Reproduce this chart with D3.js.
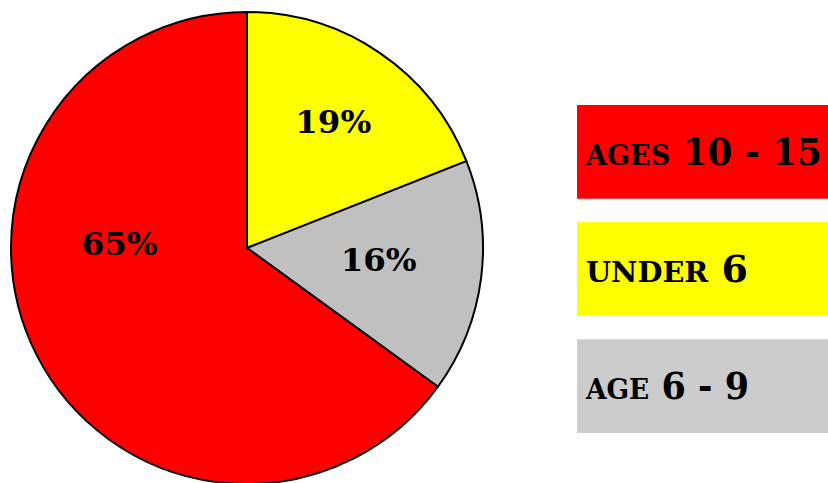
<!DOCTYPE html>
<html><head><meta charset="utf-8">
<script src="https://cdn.jsdelivr.net/npm/d3@7"></script>
<style>body{margin:0;background:#fff}svg{display:block}</style>
</head><body>
<script>
const categories = ["under 6", "age 6 - 9", "ages 10 - 15"];
const values = [19, 16, 65];
const pieColors = ["#FFFF00", "#C0C0C0", "#FF0000"];
const legendOrder = ["ages 10 - 15", "under 6", "age 6 - 9"];
const legendColors = ["#FF0000", "#FFFF00", "#CCCCCC"];

const W = 828, H = 483;
const svg = d3.select("body").append("svg").attr("width", W).attr("height", H);
const cx = 247, cy = 248, R = 236;
const font = "'DejaVu Serif', serif";

const pie = d3.pie().sort(null).value(d => d)(values);
const arc = d3.arc().innerRadius(0).outerRadius(R);
const g = svg.append("g").attr("transform", `translate(${cx},${cy})`);
g.selectAll("path").data(pie).join("path")
  .attr("d", arc).attr("fill", (d, i) => pieColors[i])
  .attr("stroke", "#000").attr("stroke-width", 2).attr("stroke-linejoin", "round");

// label placement: radius fraction and angle offset (radians) relative to slice middle
const labelAdj = [[0.65, 0], [0.56, -0.04], [0.54, 0.51]];
g.selectAll("text").data(pie).join("text")
  .attr("transform", (d, i) => {
    const a = (d.startAngle + d.endAngle) / 2 + labelAdj[i][1];
    const r = R * labelAdj[i][0];
    return `translate(${r * Math.sin(a)},${-r * Math.cos(a)})`;
  })
  .attr("text-anchor", "middle").attr("dy", "0.36em")
  .attr("font-family", font).attr("font-weight", "bold").attr("font-size", 32)
  .attr("textLength", 76).attr("lengthAdjust", "spacingAndGlyphs")
  .text(d => d.value + "%");

const y = d3.scaleBand().domain(legendOrder).range([105, 433]).paddingInner(0.2);
const lg = svg.append("g");
lg.selectAll("rect").data(legendOrder).join("rect")
  .attr("x", 577).attr("width", 260).attr("y", d => y(d)).attr("height", y.bandwidth())
  .attr("fill", (d, i) => legendColors[i]);
const widths = {"ages 10 - 15": 236, "under 6": 162, "age 6 - 9": 163};
const lt = lg.selectAll("text").data(legendOrder).join("text")
  .attr("x", 586).attr("y", d => y(d) + y.bandwidth() / 2 + 13)
  .attr("font-family", font).attr("font-weight", "bold")
  .attr("textLength", d => widths[d]).attr("lengthAdjust", "spacingAndGlyphs");
lt.each(function(d) {
  const parts = d.split(/(\s+)/);
  const t = d3.select(this);
  parts.forEach(p => {
    const isWord = /[a-z]/i.test(p);
    t.append("tspan")
      .attr("font-size", isWord ? 28 : 37)
      .style("text-transform", isWord ? "uppercase" : null)
      .text(p);
  });
});
</script>
</body></html>
